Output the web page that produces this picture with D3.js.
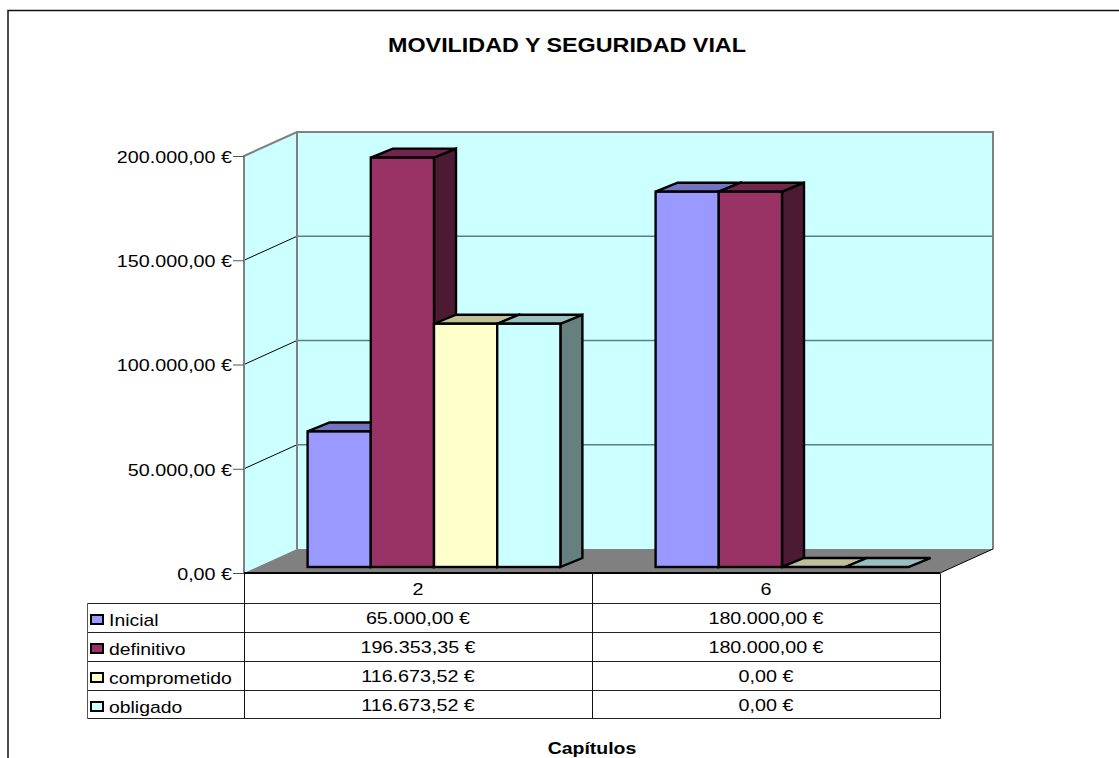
<!DOCTYPE html>
<html><head><meta charset="utf-8">
<style>html,body{margin:0;padding:0;background:#fff}svg{display:block}text{font-family:"Liberation Sans",Arial,sans-serif;fill:#000}</style>
<script src="https://cdn.jsdelivr.net/npm/d3@7"></script></head><body>
<svg id="c" width="1119" height="758"></svg>
<script>
const title = "MOVILIDAD Y SEGURIDAD VIAL";
const xTitle = "Capítulos";
const categories = ["2", "6"];
const seriesNames = ["Inicial", "definitivo", "comprometido", "obligado"];
const inicial = [65000, 180000];
const definitivo = [196353.35, 180000];
const comprometido = [116673.52, 0];
const obligado = [116673.52, 0];
const yTicks = [0, 50000, 100000, 150000, 200000];
const seriesColors = ["#9999ff", "#993366", "#ffffcc", "#ccffff"];
const allSeries = [inicial, definitivo, comprometido, obligado];

const euro = v => d3.format(",.2f")(v).replace(/[.,]/g, m => m === "," ? "." : ",") + " €";
const svg = d3.select("#c");
// text styling; the reference's type is horizontally stretched, reproduced with textLength
const f = (sel, size, bold, k) => {
  sel.style("font-size", size + "px").style("font-weight", bold ? "bold" : "normal");
  sel.each(function () {
    const len = this.getComputedTextLength();
    d3.select(this).attr("textLength", len * k).attr("lengthAdjust", "spacingAndGlyphs");
  });
  return sel;
};

const x0 = 244, x1 = 940, dx = 53, dy = -24;
const y = d3.scaleLinear().domain([0, 200000]).range([573, 156]);
const xCat = d3.scaleBand().domain(categories).range([x0, x1]);
const barW = 63.2, barDx = 22, barDy = -9, barLift = -6, barShift = 16;
const xSer = d3.scaleBand().domain(d3.range(4)).range([0, 4 * barW]);
const groupOffset = (xCat.bandwidth() - 4 * barW) / 2 + barShift;
const shade = (c, k) => { const r = d3.rgb(c); return d3.rgb(r.r * k, r.g * k, r.b * k).formatHex(); };
const poly = pts => pts.map(p => p.join(",")).join(" ");

// frame
svg.append("path").attr("d", "M8 758V10.5H1119").attr("fill", "none").attr("stroke", "#111").attr("stroke-width", 1.5);

// title
f(svg.append("text").attr("x", 567).attr("y", 52).attr("text-anchor", "middle").text(title), 21, true, 1.11);

// walls and floor
const y0 = y(0), yT = y(200000);
svg.append("polygon").attr("points", poly([[x0, y0], [x0 + dx, y0 + dy], [x1 + dx, y0 + dy], [x1 + dx, yT + dy], [x0 + dx, yT + dy], [x0, yT]])).attr("fill", "#ccffff");
svg.append("polygon").attr("points", poly([[x0, y0], [x0 + dx, y0 + dy], [x1 + dx, y0 + dy], [x1, y0]])).attr("fill", "#808080");

// gridlines
yTicks.slice(1, 4).forEach(t => {
  svg.append("path").attr("d", `M${x0} ${y(t)}L${x0 + dx} ${y(t) + dy}`).attr("stroke", "#000").attr("fill", "none");
});
yTicks.slice(1, 4).forEach(t => {
  svg.append("line").attr("x1", x0 + dx).attr("x2", x1 + dx).attr("y1", y(t) + dy).attr("y2", y(t) + dy).attr("stroke", "#5f7f7f").attr("stroke-width", 1.4);
});
// wall outline
svg.append("path").attr("d", `M${x0} ${y0}V${yT}L${x0 + dx} ${yT + dy}H${x1 + dx}V${y0 + dy}`).attr("fill", "none").attr("stroke", "#808080").attr("stroke-width", 2);
svg.append("line").attr("x1", x0 + dx).attr("x2", x0 + dx).attr("y1", yT + dy).attr("y2", y0 + dy).attr("stroke", "#808080").attr("stroke-width", 2);
svg.append("line").attr("x1", x1 + dx).attr("x2", x1).attr("y1", y0 + dy).attr("y2", y0).attr("stroke", "#000");

// bars
categories.forEach((c, ci) => {
  allSeries.forEach((s, si) => {
    const v = s[ci], col = seriesColors[si];
    const l = xCat(c) + groupOffset + xSer(si), r = l + barW;
    const t = y(v) + barLift, b = y(0) + barLift;
    const g = svg.append("g").attr("stroke", "#000").attr("stroke-width", 2.4).attr("stroke-linejoin", "miter");
    g.append("polygon").attr("points", poly([[r, t], [r + barDx, t + barDy], [r + barDx, b + barDy], [r, b]])).attr("fill", shade(col, .5));
    g.append("polygon").attr("points", poly([[l, t], [l + barDx, t + barDy], [r + barDx, t + barDy], [r, t]])).attr("fill", shade(col, .75));
    g.append("rect").attr("x", l).attr("y", t).attr("width", barW).attr("height", b - t).attr("fill", col);
  });
});

// axis ticks and labels
const axis = d3.axisLeft(y).tickValues(yTicks).tickFormat(euro).tickSize(11).tickPadding(1);
const ag = svg.append("g").attr("transform", `translate(${x0},0)`).call(axis);
ag.select(".domain").remove();
ag.selectAll("line").attr("stroke", "#555");
ag.selectAll("text").attr("font-family", null).attr("dy", "0.38em");
f(ag.selectAll("text"), 17, false, 1.16);

// floor front edge
svg.append("line").attr("x1", x0).attr("x2", x1).attr("y1", y0).attr("y2", y0).attr("stroke", "#000").attr("stroke-width", 2);

// table
const tX = [87, 244, 592, 940];
const tY = [573, 603, 632, 661, 690, 718];
const px = v => Math.round(v) + .5;
const tl = (a, b, c, d, col) => svg.append("line").attr("x1", px(a)).attr("y1", px(b)).attr("x2", px(c)).attr("y2", px(d)).attr("stroke", col);
tY.slice(1).forEach(v => tl(tX[0], v, tX[3], v, "#222"));
tl(tX[0], tY[1], tX[0], tY[5], "#555");
[tX[1], tX[2], tX[3]].forEach(v => tl(v, tY[0], v, tY[5], "#111"));
categories.forEach((c, i) => {
  const cx = (tX[i + 1] + tX[i + 2]) / 2;
  f(svg.append("text").attr("x", cx).attr("y", tY[0] + 22).attr("text-anchor", "middle").text(c), 17, false, 1.16);
  allSeries.forEach((s, si) => {
    f(svg.append("text").attr("x", cx).attr("y", tY[si + 1] + 21).attr("text-anchor", "middle").text(euro(s[i])), 17, false, 1.16);
  });
});
seriesNames.forEach((n, si) => {
  svg.append("rect").attr("x", 91).attr("y", tY[si + 1] + 12).attr("width", 12).attr("height", 9).attr("fill", seriesColors[si]).attr("stroke", "#000").attr("stroke-width", 2);
  f(svg.append("text").attr("x", 109).attr("y", tY[si + 1] + 22.5).text(n), 17, false, 1.14);
});

// x axis title
f(svg.append("text").attr("x", 592).attr("y", 754).attr("text-anchor", "middle").text(xTitle), 16.5, true, 1.18);
</script></body></html>
